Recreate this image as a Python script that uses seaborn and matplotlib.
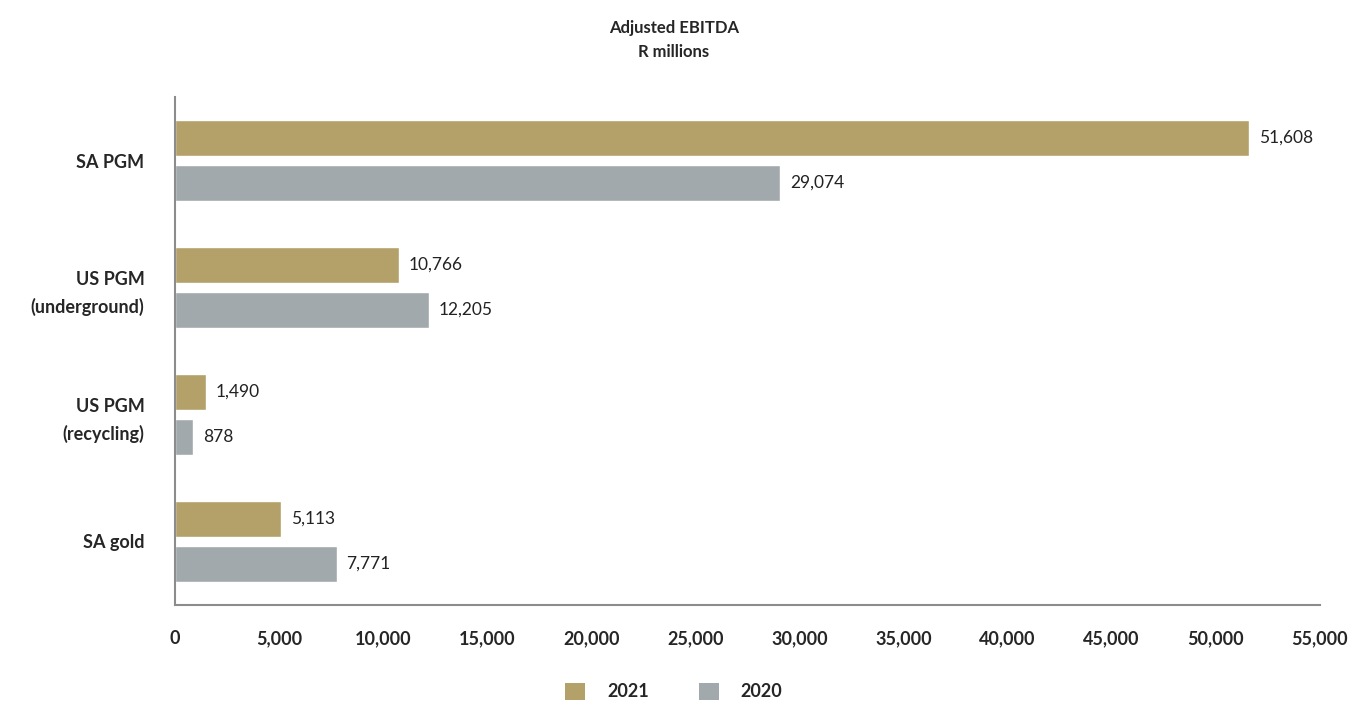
import matplotlib
matplotlib.use("Agg")
import matplotlib.pyplot as plt
import seaborn as sns
import pandas as pd
from matplotlib.patches import Patch

categories = ["SA PGM", "US PGM\n(underground)", "US PGM\n(recycling)", "SA gold"]
values_2021 = [51608, 10766, 1490, 5113]
values_2020 = [29074, 12205, 878, 7771]
years = ["2021", "2020"]
colors = {"2021": "#B4A16A", "2020": "#A2A9AC"}

rows = []
for c, a, b in zip(categories, values_2021, values_2020):
    rows.append({"cat": c, "year": "2021", "val": a})
    rows.append({"cat": c, "year": "2020", "val": b})
df = pd.DataFrame(rows)

sns.set_style("white")
plt.rcParams["font.family"] = ["Lato", "DejaVu Sans"]

fig = plt.figure(figsize=(13.48, 7.02), dpi=100)
ax = fig.add_axes([0.1298, 0.1382, 0.979 - 0.1298, 0.8618 - 0.1382])

sns.barplot(data=df, y="cat", x="val", hue="year", hue_order=years,
            palette=colors, orient="h", width=0.709, gap=0.18, ax=ax,
            legend=False, saturation=1)

ax.set_xlim(0, 55000)
ax.set_ylim(3.5, -0.5)
ax.set_xticks(range(0, 55001, 5000))
ax.set_xticklabels([f"{v:,}" for v in range(0, 55001, 5000)], fontsize=13, fontweight="bold")
ax.set_yticks(range(len(categories)))
ax.set_yticklabels(categories, fontsize=13, fontweight="bold", linespacing=1.6)
ax.set_xlabel("")
ax.set_ylabel("")

for s in ["top", "right"]:
    ax.spines[s].set_visible(False)
for s in ["left", "bottom"]:
    ax.spines[s].set_color("#8C8C8C")
    ax.spines[s].set_linewidth(1.5)
ax.tick_params(axis="x", direction="out", length=8, width=1.5, color="#8C8C8C", pad=10)
ax.tick_params(axis="y", length=0, pad=22)

for cont in ax.containers:
    labels = [f"{v:,.0f}" for v in cont.datavalues]
    ax.bar_label(cont, labels=labels, padding=7, fontsize=12.5, color="#222222")

fig.text(0.5, 0.972, "Adjusted EBITDA\nR millions", ha="center", va="top",
         fontsize=12, fontweight="bold", linespacing=1.65)

handles = [Patch(facecolor=colors[y], edgecolor="none", label=y) for y in years]
fig.legend(handles=handles, loc="center", bbox_to_anchor=(0.5, 0.015), ncol=2,
           frameon=False, handlelength=1.1, handleheight=1.1, columnspacing=2.8,
           handletextpad=1.2, prop={"size": 13, "weight": "bold"})

fig.savefig("out.png", dpi=100)
